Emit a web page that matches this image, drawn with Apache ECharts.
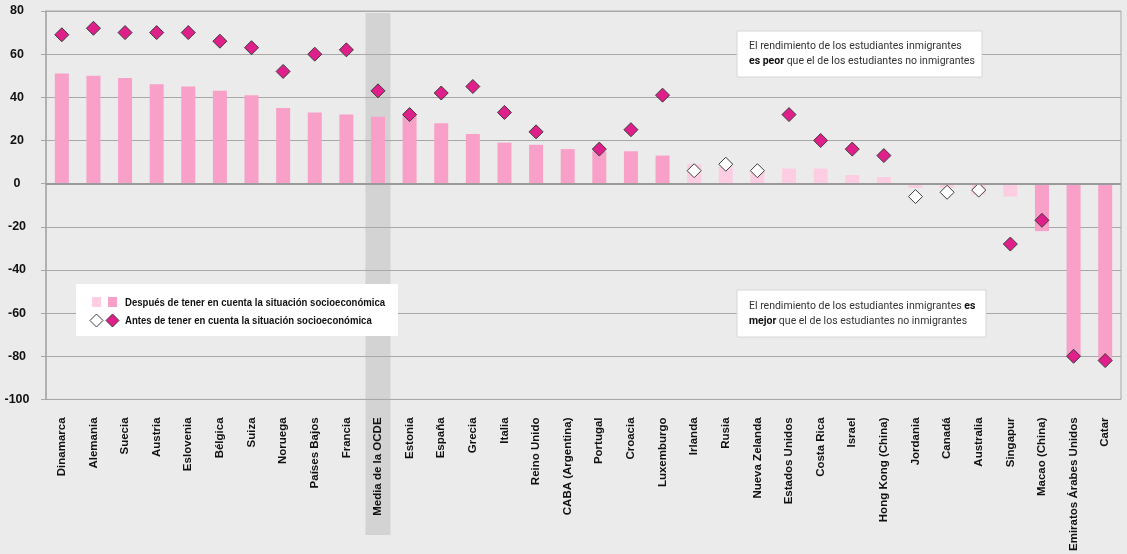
<!DOCTYPE html>
<html>
<head>
<meta charset="utf-8">
<script src="https://cdn.jsdelivr.net/npm/echarts@6/dist/echarts.min.js"></script>
<style>
  html, body { margin: 0; padding: 0; background: #ebebeb; }
  #chart { width: 1127px; height: 554px; }
</style>
</head>
<body>
<div id="chart"></div>
<script>
// categories in the order shown
const countries = ['Dinamarca', 'Alemania', 'Suecia', 'Austria', 'Eslovenia', 'Bélgica', 'Suiza', 'Noruega',
  'Países Bajos', 'Francia', 'Media de la OCDE', 'Estonia', 'España', 'Grecia', 'Italia', 'Reino Unido',
  'CABA (Argentina)', 'Portugal', 'Croacia', 'Luxemburgo', 'Irlanda', 'Rusia', 'Nueva Zelanda',
  'Estados Unidos', 'Costa Rica', 'Israel', 'Hong Kong (China)', 'Jordania', 'Canadá', 'Australia',
  'Singapur', 'Macao (China)', 'Emiratos Árabes Unidos', 'Catar'];

// bars: after accounting for socio-economic status
const afterValues = [51, 50, 49, 46, 45, 43, 41, 35, 33, 32, 31, 32, 28, 23, 19, 18, 16, 15, 15, 13,
  9, 8, 6, 7, 7, 4, 3, -2, -2, -5, -6, -22, -80, -82];
const afterSignificant = [1, 1, 1, 1, 1, 1, 1, 1, 1, 1, 1, 1, 1, 1, 1, 1, 1, 1, 1, 1,
  0, 0, 0, 0, 0, 0, 0, 0, 0, 0, 0, 1, 1, 1];

// diamonds: before accounting for socio-economic status
const beforeValues = [69, 72, 70, 70, 70, 66, 63, 52, 60, 62, 43, 32, 42, 45, 33, 24, null, 16, 25, 41,
  6, 9, 6, 32, 20, 16, 13, -6, -4, -3, -28, -17, -80, -82];
const beforeSignificant = [1, 1, 1, 1, 1, 1, 1, 1, 1, 1, 1, 1, 1, 1, 1, 1, 0, 1, 1, 1,
  0, 0, 0, 1, 1, 1, 1, 0, 0, 0, 1, 1, 1, 1];

const yMin = -100, yMax = 80, yStep = 20;
const highlightCategory = 'Media de la OCDE';

const barDark = '#f9a0c8';
const barLight = '#fdcde1';
const diamondFill = '#e0208a';

const chart = echarts.init(document.getElementById('chart'));

const option = {
  backgroundColor: '#ebebeb',
  animation: false,
  grid: {
    left: 46, right: 6, top: 11, bottom: 154,
    show: true, borderColor: '#a8a8a8', borderWidth: 1, backgroundColor: 'transparent'
  },
  xAxis: {
    type: 'category',
    data: countries,
    axisLine: { show: false, onZero: false },
    axisTick: { show: false },
    axisLabel: {
      interval: 0, rotate: 90, margin: 18,
      fontFamily: 'Liberation Sans', fontWeight: 'bold', fontSize: 11.5, color: '#111'
    }
  },
  yAxis: {
    type: 'value',
    min: yMin, max: yMax, interval: yStep,
    axisLine: { show: true, lineStyle: { color: '#a8a8a8', width: 1.5 } },
    axisTick: { show: true, length: 5, lineStyle: { color: '#a8a8a8' } },
    splitLine: { lineStyle: { color: '#a8a8a8', width: 1.2 } },
    axisLabel: {
      margin: 29, align: 'center',
      fontFamily: 'Liberation Sans', fontWeight: 'bold', fontSize: 12.5, color: '#111'
    }
  },
  series: [
    {
      type: 'bar',
      barWidth: 14,
      z: 2,
      data: afterValues.map((v, i) => ({
        value: v,
        itemStyle: { color: afterSignificant[i] ? barDark : barLight }
      })),
      markLine: {
        silent: true, symbol: 'none', label: { show: false },
        lineStyle: { color: '#9a9a9a', width: 2, type: 'solid' },
        data: [{ yAxis: 0 }]
      }
    },
    {
      type: 'scatter',
      symbol: 'diamond',
      symbolSize: 14,
      z: 4,
      itemStyle: { opacity: 1 },
      data: beforeValues.map((v, i) => ({
        value: v,
        itemStyle: {
          color: beforeSignificant[i] ? diamondFill : '#ffffff',
          borderColor: '#3c3c3c', borderWidth: 1, opacity: 1
        }
      }))
    }
  ]
};

chart.setOption(option);

// grey band behind the OECD average, running down through its label
const bandX = chart.convertToPixel({ xAxisIndex: 0 }, highlightCategory);
const legendFont = 'bold 11px "Liberation Sans"';
const noteFont = '10.5px Roboto';
const boldRich = { b: { fontWeight: 'bold', fontFamily: 'Roboto', fontSize: 10.5, fill: '#111' } };

chart.setOption({
  graphic: [
    {
      type: 'rect', z: -10, silent: true,
      shape: { x: bandX - 12.5, y: 13, width: 25, height: 522 },
      style: { fill: '#d3d3d3' }
    },
    // legend box
    {
      type: 'rect', z: 10,
      shape: { x: 76, y: 284, width: 322, height: 52 },
      style: { fill: '#ffffff' }
    },
    { type: 'rect', z: 11, shape: { x: 92, y: 297, width: 9, height: 10 }, style: { fill: barLight } },
    { type: 'rect', z: 11, shape: { x: 108, y: 297, width: 9, height: 10 }, style: { fill: barDark } },
    {
      type: 'polygon', z: 11,
      shape: { points: [[96.5, 314], [103, 320.5], [96.5, 327], [90, 320.5]] },
      style: { fill: '#ffffff', stroke: '#3c3c3c', lineWidth: 1 }
    },
    {
      type: 'polygon', z: 11,
      shape: { points: [[112.5, 314], [119, 320.5], [112.5, 327], [106, 320.5]] },
      style: { fill: diamondFill, stroke: '#3c3c3c', lineWidth: 1 }
    },
    {
      type: 'text', z: 11, x: 125, y: 303, scaleX: 0.87,
      style: { text: 'Después de tener en cuenta la situación socioeconómica', font: legendFont, fill: '#111', verticalAlign: 'middle' }
    },
    {
      type: 'text', z: 11, x: 125, y: 321, scaleX: 0.87,
      style: { text: 'Antes de tener en cuenta la situación socioeconómica', font: legendFont, fill: '#111', verticalAlign: 'middle' }
    },
    // note: worse
    {
      type: 'rect', z: 10,
      shape: { x: 737, y: 31, width: 245, height: 46 },
      style: { fill: '#ffffff', stroke: '#d6d6d6', lineWidth: 1 }
    },
    {
      type: 'text', z: 11, x: 749, y: 46.5,
      style: {
        text: 'El rendimiento de los estudiantes inmigrantes',
        font: noteFont, fill: '#333', verticalAlign: 'middle'
      }
    },
    {
      type: 'text', z: 11, x: 749, y: 61.5,
      style: {
        text: '{b|es peor} que el de los estudiantes no inmigrantes',
        font: noteFont, fill: '#333', verticalAlign: 'middle', rich: boldRich
      }
    },
    // note: better
    {
      type: 'rect', z: 10,
      shape: { x: 737, y: 290, width: 249, height: 47 },
      style: { fill: '#ffffff', stroke: '#d6d6d6', lineWidth: 1 }
    },
    {
      type: 'text', z: 11, x: 749, y: 306,
      style: {
        text: 'El rendimiento de los estudiantes inmigrantes {b|es}',
        font: noteFont, fill: '#333', verticalAlign: 'middle', rich: boldRich
      }
    },
    {
      type: 'text', z: 11, x: 749, y: 321.5,
      style: {
        text: '{b|mejor} que el de los estudiantes no inmigrantes',
        font: noteFont, fill: '#333', verticalAlign: 'middle', rich: boldRich
      }
    }
  ]
});
</script>
</body>
</html>
